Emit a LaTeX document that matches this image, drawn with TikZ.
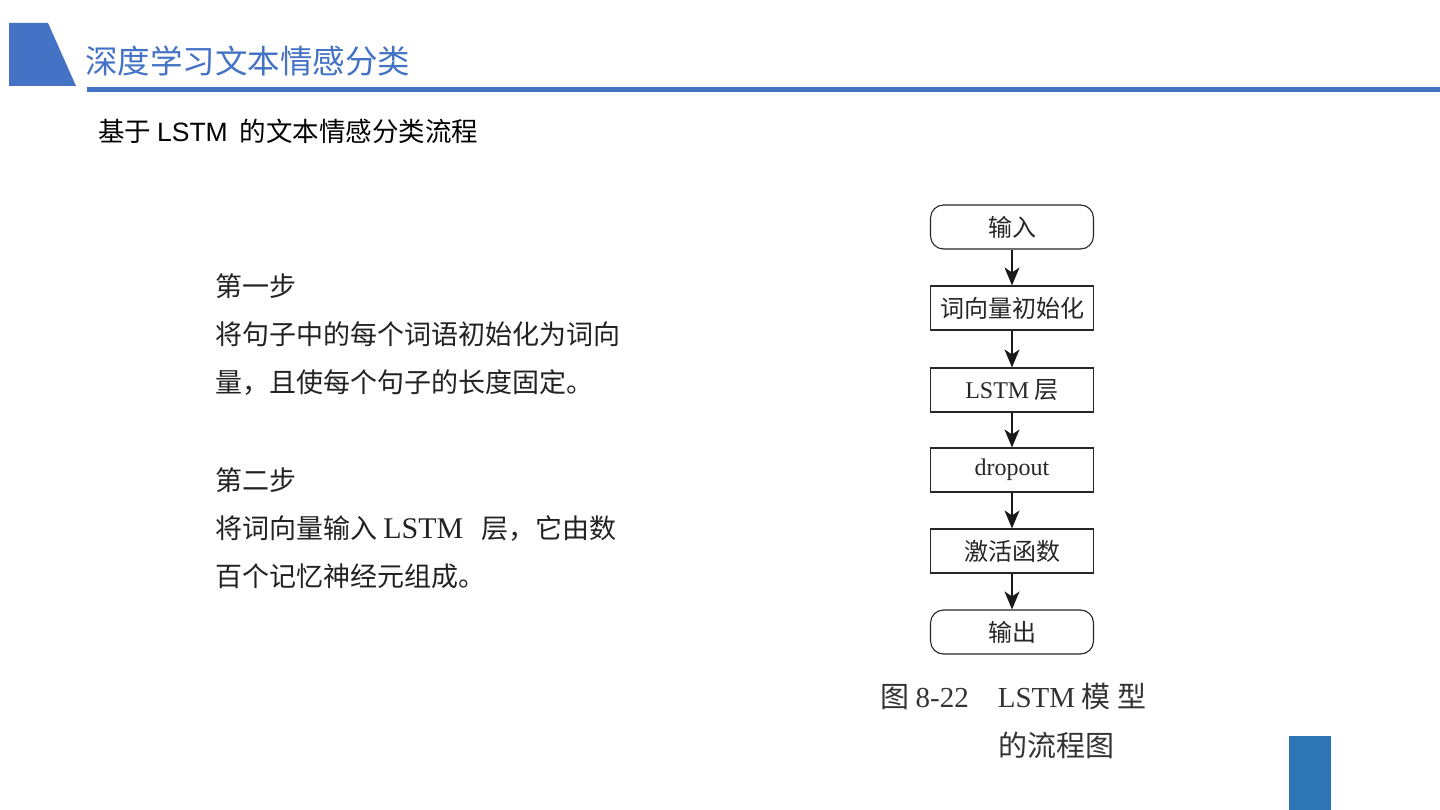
\documentclass[tikz,border=0pt]{standalone}
\usepackage{fontspec}
\setmainfont{Liberation Serif}
\setsansfont{Liberation Sans}
\newfontfamily\cjk{Noto Sans CJK SC}
\usetikzlibrary{arrows.meta}

\definecolor{titleblue}{RGB}{68,114,196}
\definecolor{cornerblue}{RGB}{46,117,182}
\definecolor{bodygray}{RGB}{34,34,34}

\tikzset{
  flowbox/.style={draw=black!85, line width=1.1pt, minimum width=163pt,
    minimum height=44pt, inner sep=0pt, text=black!85,
    font=\cjk\fontsize{24}{24}\selectfont},
  termbox/.style={flowbox, rounded corners=13pt},
  flowarrow/.style={-{Stealth[length=18pt,width=15pt,inset=5pt]}, line width=1.4pt, black!90},
  bodytext/.style={anchor=north west, align=left, inner sep=0pt, text=bodygray,
    font=\cjk\fontsize{27}{48}\selectfont},
  capline/.style={anchor=west, inner sep=0pt, text=black!80,
    font=\cjk\fontsize{29}{29}\selectfont}
}

\begin{document}
\begin{tikzpicture}[x=1pt, y=-1pt]
  \useasboundingbox (0,0) rectangle (1440,810);
  \fill[white] (0,0) rectangle (1440,810);

  % Kopfzeile
  \fill[titleblue] (9,23) -- (48,23) -- (76,86) -- (9,86) -- cycle;
  \fill[titleblue] (87,87) rectangle (1440,92);
  \node[anchor=west, inner sep=0pt, text=titleblue, font=\cjk\fontsize{32.5}{32}\selectfont]
    (title) at (85,61) {深度学习文本情感分类};
  \node[anchor=west, inner sep=0pt, font=\cjk\fontsize{26.5}{26}\selectfont]
    (subtitle) at (98,131) {基于 \textsf{LSTM}\ \ 的文本情感分类流程};

  % Schritte
  \node[bodytext] (stepone) at (215,273)
    {第一步\\将句子中的每个词语初始化为词向\\量，且使每个句子的长度固定。};
  \node[bodytext] (steptwo) at (215,467)
    {第二步\\将词向量输入 {\rmfamily\fontsize{30}{30}\selectfont LSTM}\ \ \ 层，它由数\\百个记忆神经元组成。};

  % Flussdiagramm
  \node[termbox] (input)   at (1012,227) {输入};
  \node[flowbox] (embed)   at (1012,308) {词向量初始化};
  \node[flowbox] (lstm)    at (1012,390) {\textrm{LSTM} 层};
  \node[flowbox] (dropout) at (1012,470) {\textrm{dropout}};
  \node[flowbox] (activ)   at (1012,551) {激活函数};
  \node[termbox] (output)  at (1012,632) {输出};

  \draw[flowarrow] (input) -- (embed);
  \draw[flowarrow] (embed) -- (lstm);
  \draw[flowarrow] (lstm) -- (dropout);
  \draw[flowarrow] (dropout) -- (activ);
  \draw[flowarrow] (activ) -- (output);

  % Bildunterschrift
  \node[capline] (capa) at (880,696) {图 \textrm{8-22}\quad\textrm{LSTM} 模 型};
  \node[capline] (capb) at (998,745) {的流程图};

  % Ecke unten rechts
  \fill[cornerblue] (1289,736) rectangle (1331,810);
\end{tikzpicture}
\end{document}
